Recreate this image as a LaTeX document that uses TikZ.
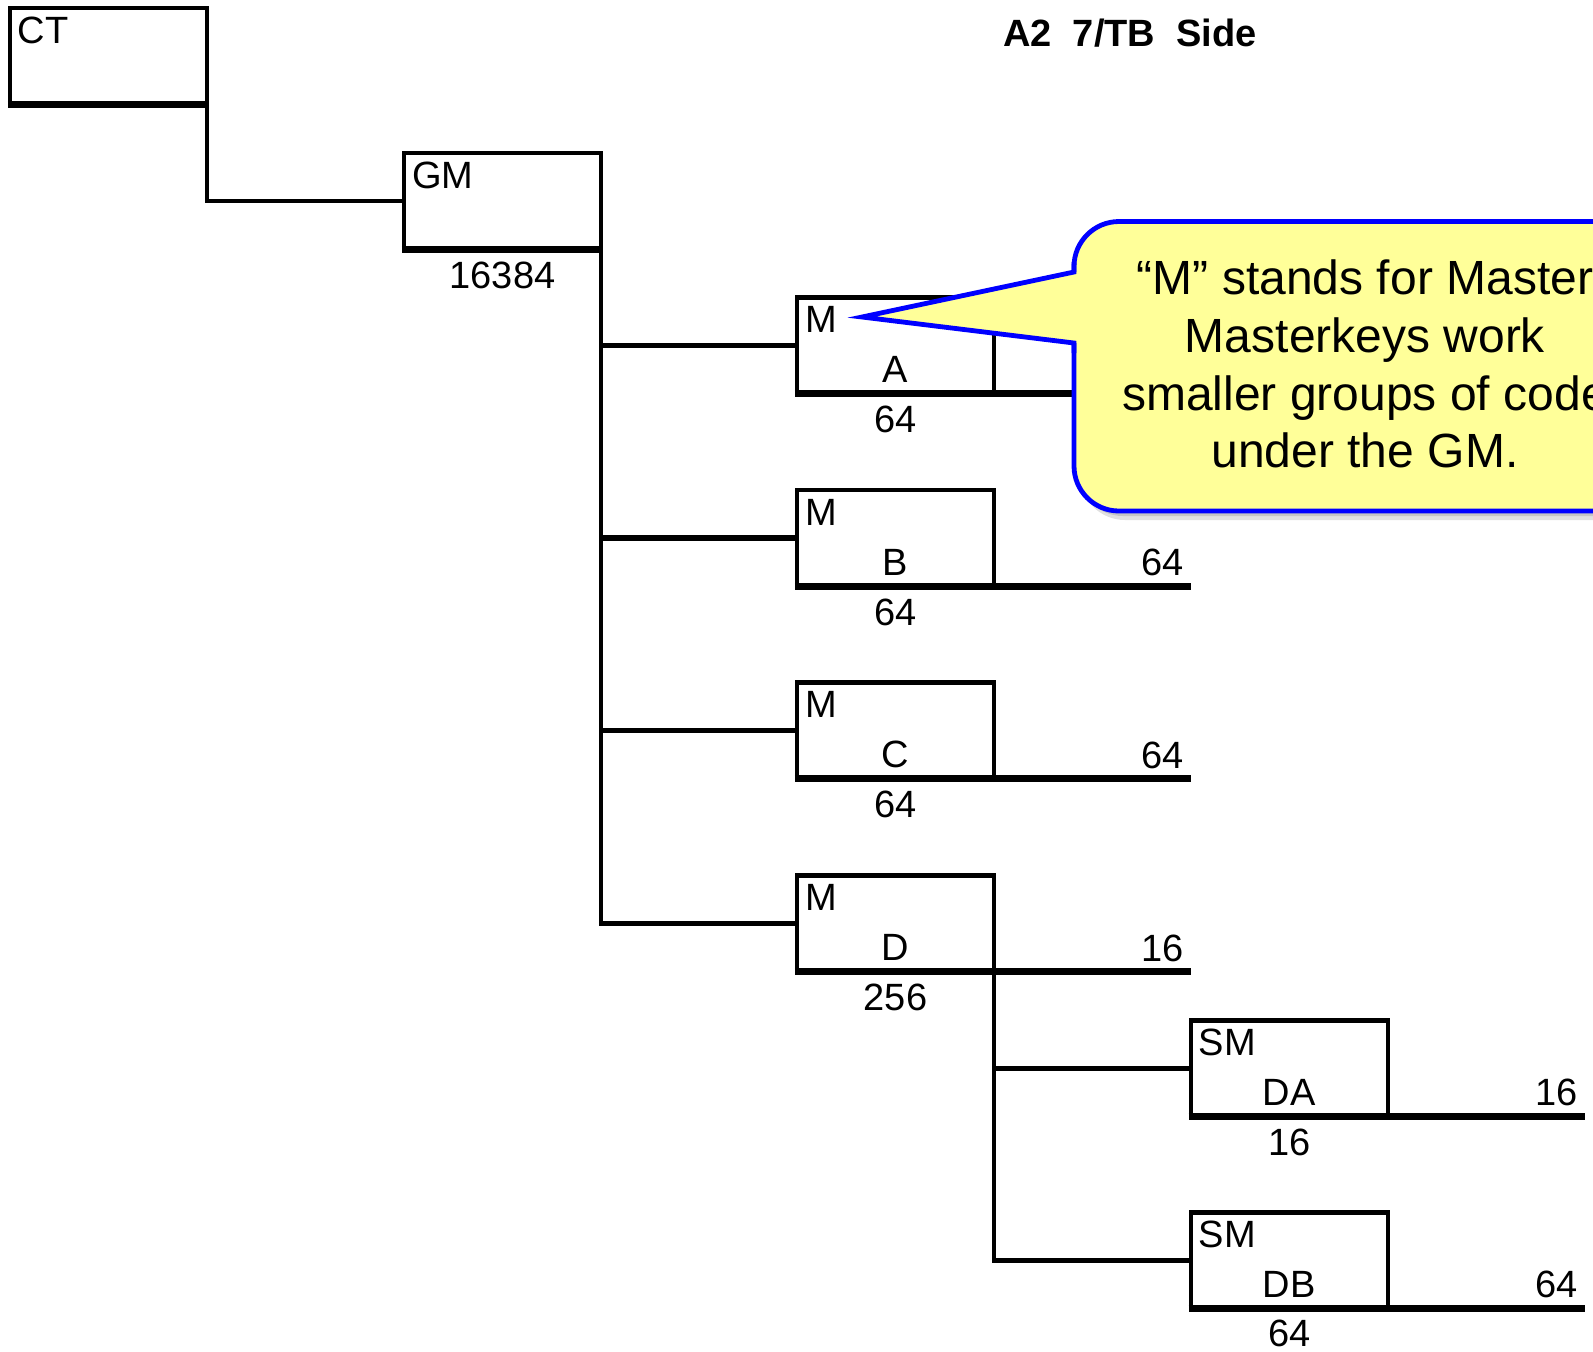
\documentclass[tikz,border=0pt]{standalone}
\usepackage{fontspec}
\setmainfont{Liberation Sans}
\usetikzlibrary{calc}
\definecolor{cfill}{RGB}{255,255,153}
\definecolor{cblue}{RGB}{0,0,255}
\tikzset{
  box/.style={draw, rectangle, minimum width=98.5pt, minimum height=48pt, inner sep=0pt, outer sep=0pt, line width=2.2pt},
  boxbottom/.style={line width=3.5pt},
  conn/.style={line width=2.2pt, line join=miter},
  lbl/.style={font=\fontsize{19}{22}\selectfont, inner sep=0pt, outer sep=0pt},
  ctext/.style={font=\fontsize{24}{29}\selectfont, inner sep=0pt, outer sep=0pt, anchor=base},
  cborder/.style={cblue, line width=2.4pt},
}
\begin{document}
\begin{tikzpicture}[x=0.5pt,y=-0.5pt]
\useasboundingbox (0,0) rectangle (1593,1351);
\clip (0,0) rectangle (1593,1351);

% boxes
\node[box] (ct) at (108.5,56) {};
\node[box] (gm) at (502.5,201) {};
\node[box] (ma) at (895.5,345.5) {};
\node[box] (mb) at (895.5,538) {};
\node[box] (mc) at (895.5,730.5) {};
\node[box] (md) at (895.5,923.5) {};
\node[box] (sda) at (1289.2,1068.3) {};
\node[box] (sdb) at (1289.2,1260.3) {};

\foreach \n in {ct,gm,ma,mb,mc,md,sda,sdb}
  \draw[boxbottom] ($(\n.south west)+(-2.2,0)$) -- ($(\n.south east)+(2.2,0)$);

\foreach \n in {ma,mb,mc,md,sda,sdb}
  \draw[boxbottom] (\n.south east) -- ++(197,0) coordinate (\n-end);

% connectors
\draw[conn] (ct.south east) |- (gm.west);
\draw[conn] (gm.south east) -- (gm.south east |- md.west) -- (md.west);
\draw[conn] (gm.south east |- ma.west) -- (ma.west);
\draw[conn, line width=3.2pt] (gm.south east |- mb.west) -- (mb.west);
\draw[conn] (gm.south east |- mc.west) -- (mc.west);
\draw[conn] (md.south east) -- (md.south east |- sdb.west) -- (sdb.west);
\draw[conn] (md.south east |- sda.west) -- (sda.west);

% top-left labels
\node[lbl, anchor=north west] (ct-t) at ($(ct.north west)+(8,8.5)$) {CT};
\node[lbl, anchor=north west] (gm-t) at ($(gm.north west)+(8,8.5)$) {GM};
\node[lbl, anchor=north west] (ma-t) at ($(ma.north west)+(8,9)$) {M};
\node[lbl, anchor=north west] (mb-t) at ($(mb.north west)+(8,9)$) {M};
\node[lbl, anchor=north west] (mc-t) at ($(mc.north west)+(8,9)$) {M};
\node[lbl, anchor=north west] (md-t) at ($(md.north west)+(8,9)$) {M};
\node[lbl, anchor=north west] (sda-t) at ($(sda.north west)+(8,9)$) {SM};
\node[lbl, anchor=north west] (sdb-t) at ($(sdb.north west)+(8,9)$) {SM};

% letters
\node[lbl, anchor=base] (ma-l) at ($(ma.south)+(0,-11)$) {A};
\node[lbl, anchor=base] (mb-l) at ($(mb.south)+(0,-11)$) {B};
\node[lbl, anchor=base] (mc-l) at ($(mc.south)+(0,-11)$) {C};
\node[lbl, anchor=base] (md-l) at ($(md.south)+(0,-11)$) {D};
\node[lbl, anchor=base] (sda-l) at ($(sda.south)+(0,-11)$) {DA};
\node[lbl, anchor=base] (sdb-l) at ($(sdb.south)+(0,-11)$) {DB};

% numbers below
\node[lbl, anchor=base] (gm-n) at ($(gm.south)+(0,39.5)$) {16384};
\node[lbl, anchor=base] (ma-n) at ($(ma.south)+(0,39)$) {64};
\node[lbl, anchor=base] (mb-n) at ($(mb.south)+(0,39)$) {64};
\node[lbl, anchor=base] (mc-n) at ($(mc.south)+(0,39)$) {64};
\node[lbl, anchor=base] (md-n) at ($(md.south)+(0,39)$) {256};
\node[lbl, anchor=base] (sda-n) at ($(sda.south)+(0,39)$) {16};
\node[lbl, anchor=base] (sdb-n) at ($(sdb.south)+(0,38)$) {64};

% numbers on right lines
\node[lbl, anchor=base east] (mb-r) at ($(mb-end)+(-7,-10.5)$) {64};
\node[lbl, anchor=base east] (mc-r) at ($(mc-end)+(-7,-10.5)$) {64};
\node[lbl, anchor=base east] (md-r) at ($(md-end)+(-7,-10.5)$) {16};
\node[lbl, anchor=base east] (sda-r) at ($(sda-end)+(-7,-10.5)$) {16};
\node[lbl, anchor=base east] (sdb-r) at ($(sdb-end)+(-7,-10.5)$) {64};

% title
\node[font=\bfseries\fontsize{19}{23}\selectfont, anchor=base, inner sep=0pt] (title) at (1130,46) {A2\ \ 7/TB\ \ Side};

% callout
\fill[black, opacity=0.12, rounded corners=22.5pt] (1080,229) rectangle (1766,520);
\fill[black, opacity=0.12, rounded corners=22.5pt] (1078,226) rectangle (1763,516);
\fill[cfill, rounded corners=22.5pt] (1074,221.5) rectangle (1760,511);
\fill[cfill] (1076,272) -- (862,317) -- (1076,343) -- cycle;
\draw[cborder, rounded corners=22.5pt] (1074,343) -- (1074,511) -- (1760,511) -- (1760,221.5) -- (1074,221.5) -- (1074,272);
\draw[cborder, line join=miter] (1074,262) -- (1074,272) -- (862,317) -- (1074,343) -- (1074,353);

\node[ctext] (c1) at (1365,294.6) {“M” stands for Master};
\node[ctext] (c2) at (1365,352.5) {Masterkeys work};
\node[ctext] (c3) at (1365,410) {smaller groups of code};
\node[ctext] (c4) at (1365,467) {under the GM.};
\end{tikzpicture}
\end{document}
